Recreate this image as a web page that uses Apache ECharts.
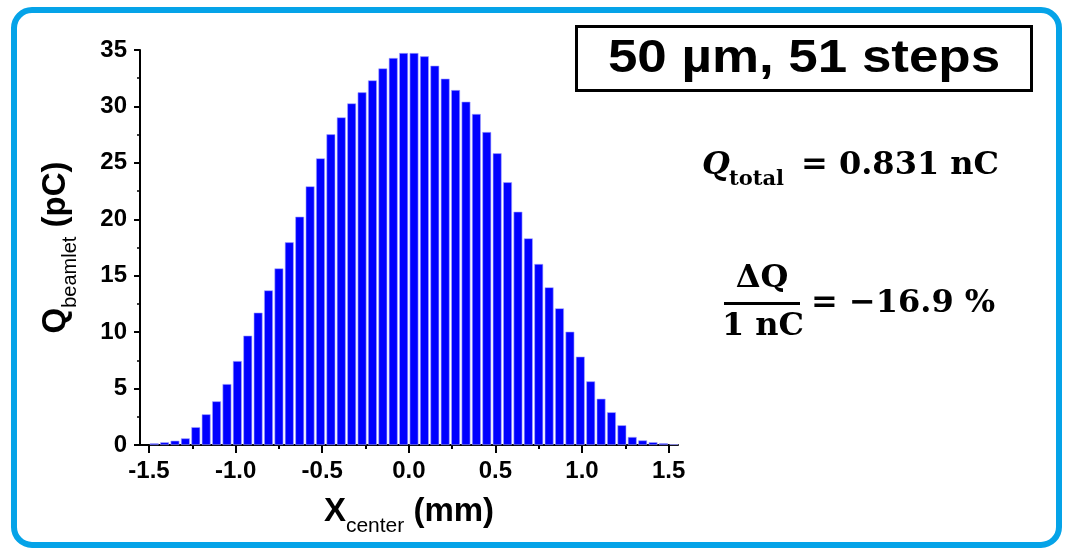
<!DOCTYPE html>
<html>
<head>
<meta charset="utf-8">
<script src="https://cdn.jsdelivr.net/npm/echarts@6/dist/echarts.min.js"></script>
<style>
  html, body { margin: 0; padding: 0; background: #ffffff; }
  #chart { width: 1065px; height: 552px; }
</style>
</head>
<body>
<div id="chart"></div>
<script>
// Beamlet centre positions along x (mm), one per scan step
const xCenters = [
  -1.47, -1.41, -1.35, -1.29, -1.23, -1.17, -1.11, -1.05, -0.99, -0.93,
  -0.87, -0.81, -0.75, -0.69, -0.63, -0.57, -0.51, -0.45, -0.39, -0.33,
  -0.27, -0.21, -0.15, -0.09, -0.03, 0.03, 0.09, 0.15, 0.21, 0.27,
  0.33, 0.39, 0.45, 0.51, 0.57, 0.63, 0.69, 0.75, 0.81, 0.87,
  0.93, 0.99, 1.05, 1.11, 1.17, 1.23, 1.29, 1.35, 1.41, 1.47, 1.53
];

// Charge collected per beamlet (pC)
const beamletCharge = [
  0.15, 0.24, 0.38, 0.59, 1.58, 2.72, 3.87, 5.40, 7.44, 9.69,
  11.73, 13.70, 15.65, 17.96, 20.23, 22.92, 25.40, 27.53, 29.03, 30.27,
  31.25, 32.31, 33.37, 34.29, 34.73, 34.73, 34.44, 33.61, 32.46, 31.45,
  30.42, 29.33, 27.73, 25.85, 23.28, 20.67, 18.31, 16.04, 13.97, 12.11,
  10.04, 7.83, 5.64, 4.10, 2.90, 1.75, 0.71, 0.41, 0.25, 0.16, 0.07
];

// Axis ticks
const xMajorTicks = [-1.5, -1.0, -0.5, 0.0, 0.5, 1.0, 1.5];
const xMinorTicks = [-1.25, -0.75, -0.25, 0.25, 0.75, 1.25];
const yRange = [0, 35];
const yStep = 5;

// Annotation texts
const scanLabel = '50 µm, 51 steps';
const totalSymbol = 'Q';
const totalSub = 'total';
const totalValue = '= 0.831 nC';
const ratioNumerator = 'ΔQ';
const ratioDenominator = '1 nC';
const ratioValue = '= −16.9 %';

const sans = '"Liberation Sans", Arial, sans-serif';
const serif = '"DejaVu Serif", serif';

const chart = echarts.init(document.getElementById('chart'), null, { renderer: 'canvas' });

const titleRich = {
  m: { fontFamily: sans, fontWeight: 'bold', fontSize: 33, lineHeight: 36, color: '#000' },
  s: { fontFamily: sans, fontWeight: 'normal', fontSize: 21, lineHeight: 21, padding: [28, 0, 0, 0], color: '#000' }
};
const titleRichY = {
  m: { fontFamily: sans, fontWeight: 'bold', fontSize: 33, lineHeight: 36, color: '#000' },
  s: { fontFamily: sans, fontWeight: 'normal', fontSize: 20, lineHeight: 20, padding: [28, 0, 0, 0], color: '#000' }
};

const option = {
  animation: false,
  backgroundColor: '#ffffff',
  grid: { left: 140, top: 50, width: 538, height: 395 },
  xAxis: [
    {
      type: 'value',
      min: -1.552,
      max: 1.554,
      position: 'bottom',
      axisLine: { show: true, onZero: false, lineStyle: { color: '#000', width: 2 } },
      axisTick: { show: true, customValues: xMajorTicks, length: 8, lineStyle: { color: '#000', width: 2 } },
      axisLabel: {
        customValues: xMajorTicks,
        formatter: v => v.toFixed(1),
        fontFamily: sans, fontWeight: 'bold', fontSize: 24, color: '#000', margin: 14
      },
      splitLine: { show: false },
      name: '{m|X}{s|center}{m| (mm)}',
      nameLocation: 'middle',
      nameGap: 48,
      nameTextStyle: { rich: titleRich }
    },
    {
      type: 'value',
      min: -1.552,
      max: 1.554,
      position: 'bottom',
      axisLine: { show: false, onZero: false },
      axisTick: { show: true, customValues: xMinorTicks, length: 4, lineStyle: { color: '#000', width: 2 } },
      axisLabel: { show: false },
      splitLine: { show: false }
    }
  ],
  yAxis: {
    type: 'value',
    min: yRange[0],
    max: yRange[1],
    interval: yStep,
    position: 'left',
    axisLine: { show: true, onZero: false, lineStyle: { color: '#000', width: 2 } },
    axisTick: { show: true, length: 6, lineStyle: { color: '#000', width: 2 } },
    minorTick: { show: true, splitNumber: 2, length: 3, lineStyle: { color: '#000', width: 1.5 } },
    axisLabel: { fontFamily: sans, fontWeight: 'bold', fontSize: 24, color: '#000', margin: 13 },
    splitLine: { show: false },
    name: '{m|Q}{s|beamlet}{m| (pC)}',
    nameLocation: 'middle',
    nameRotate: 90,
    nameGap: 66,
    nameTextStyle: { rich: titleRichY }
  },
  series: [
    {
      type: 'bar',
      xAxisIndex: 0,
      barWidth: '85%',
      data: xCenters.map((x, i) => [x, beamletCharge[i]]),
      itemStyle: { color: '#0000ff', borderColor: '#a8a8ff', borderWidth: 0.6 }
    }
  ],
  graphic: [
    // rounded outer frame
    {
      type: 'rect', silent: true,
      shape: { x: 14, y: 10, width: 1045, height: 535, r: 18 },
      style: { fill: 'none', stroke: '#05a3e8', lineWidth: 6 }
    },
    // boxed scan description
    {
      type: 'rect', silent: true,
      shape: { x: 576.5, y: 26.5, width: 455, height: 64 },
      style: { fill: '#fff', stroke: '#000', lineWidth: 3 }
    },
    {
      type: 'text', silent: true, x: 804, y: 59, scaleX: 1.15,
      style: { x: 0, y: 0, text: scanLabel, font: 'bold 46px ' + sans, fill: '#000', textAlign: 'center', textVerticalAlign: 'middle' }
    },
    // total charge
    {
      type: 'text', silent: true,
      style: { x: 702, y: 166, text: totalSymbol, font: 'italic bold 32px ' + serif, fill: '#000', textAlign: 'left', textVerticalAlign: 'middle' }
    },
    {
      type: 'text', silent: true,
      style: { x: 729, y: 180, text: totalSub, font: 'bold 21px ' + serif, fill: '#000', textAlign: 'left', textVerticalAlign: 'middle' }
    },
    {
      type: 'text', silent: true,
      style: { x: 801, y: 166, text: totalValue, font: 'bold 32px ' + serif, fill: '#000', textAlign: 'left', textVerticalAlign: 'middle' }
    },
    // relative deviation fraction
    {
      type: 'text', silent: true,
      style: { x: 762, y: 279, text: ratioNumerator, font: 'bold 32px ' + serif, fill: '#000', textAlign: 'center', textVerticalAlign: 'middle' }
    },
    {
      type: 'line', silent: true,
      shape: { x1: 724, y1: 303.5, x2: 800, y2: 303.5 },
      style: { stroke: '#000', lineWidth: 3 }
    },
    {
      type: 'text', silent: true,
      style: { x: 763, y: 327, text: ratioDenominator, font: 'bold 32px ' + serif, fill: '#000', textAlign: 'center', textVerticalAlign: 'middle' }
    },
    {
      type: 'text', silent: true,
      style: { x: 811, y: 304, text: ratioValue, font: 'bold 32px ' + serif, fill: '#000', textAlign: 'left', textVerticalAlign: 'middle' }
    }
  ]
};

chart.setOption(option);
</script>
</body>
</html>
